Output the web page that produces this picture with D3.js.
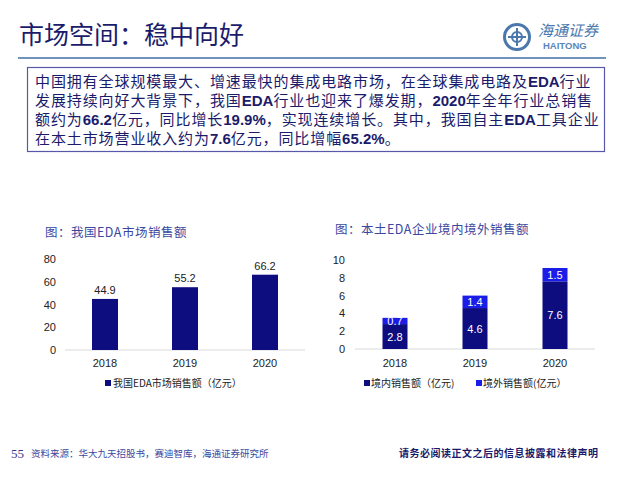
<!DOCTYPE html>
<html>
<head>
<meta charset="utf-8">
<script src="https://cdn.jsdelivr.net/npm/d3@7"></script>
<style>
  body { margin: 0; background: #fff; }
  svg { display: block; font-family: "Liberation Sans", Arial, sans-serif; }
  .cjk { font-family: "Noto Sans CJK SC", "Liberation Sans", sans-serif; }
</style>
</head>
<body>
<svg width="640" height="480"></svg>
<script>
// data
years = ['2018', '2019', '2020'];
marketSales = [44.9, 55.2, 66.2];
domesticSales = [2.8, 4.6, 7.6];
overseasSales = [0.7, 1.4, 1.5];
leftTicks = [0, 20, 40, 60, 80];
rightTicks = [0, 2, 4, 6, 8, 10];

const navy = '#0d0d80';
const brightBlue = '#1c1ce8';
const textNavy = '#1b1b6b';

svg = d3.select('svg');

// header
svg.append('text').attr('class', 'cjk')
  .attr('x', 19).attr('y', 44)
  .style('font-size', '25px').style('fill', textNavy)
  .text('市场空间：稳中向好');

svg.append('line')
  .attr('x1', 18).attr('x2', 606).attr('y1', 58).attr('y2', 58)
  .style('stroke', '#3f6fa3').style('stroke-width', 1.5);

// logo (simplified)
logo = svg.append('g').attr('transform', 'translate(517,37)');
logo.append('circle').attr('r', 12.5)
  .style('fill', 'none').style('stroke', '#4a78ad').style('stroke-width', 3);
logo.append('circle').attr('r', 5)
  .style('fill', 'none').style('stroke', '#4a78ad').style('stroke-width', 2);
logo.append('line').attr('x1', -9).attr('x2', 9).attr('y1', 0).attr('y2', 0)
  .style('stroke', '#4a78ad').style('stroke-width', 2);
logo.append('line').attr('x1', 0).attr('x2', 0).attr('y1', -9).attr('y2', 9)
  .style('stroke', '#4a78ad').style('stroke-width', 2);
svg.append('text').attr('class', 'cjk')
  .attr('x', 538).attr('y', 36)
  .style('font-size', '15px').style('font-style', 'italic').style('fill', '#4a78ad')
  .text('海通证券');
svg.append('text')
  .attr('x', 543).attr('y', 49)
  .style('font-size', '9.5px').style('font-weight', 'bold').style('fill', '#5a86b8')
  .text('HAITONG');

// summary box
svg.append('rect')
  .attr('x', 27.5).attr('y', 67.5).attr('width', 577).attr('height', 84)
  .style('fill', '#fff').style('stroke', '#5858aa').style('stroke-width', 1.2);

const lines = [
  [['中国拥有全球规模最大、增速最快的集成电路市场，在全球集成电路及', 0], ['EDA', 1], ['行业', 0]],
  [['发展持续向好大背景下，我国', 0], ['EDA', 1], ['行业也迎来了爆发期，', 0], ['2020', 1], ['年全年行业总销售', 0]],
  [['额约为', 0], ['66.2', 1], ['亿元，同比增长', 0], ['19.9%', 1], ['，实现连续增长。其中，我国自主', 0], ['EDA', 1], ['工具企业', 0]],
  [['在本土市场营业收入约为', 0], ['7.6', 1], ['亿元，同比增幅', 0], ['65.2%', 1], ['。', 0]]
];
lines.forEach((parts, i) => {
  const t = svg.append('text').attr('class', 'cjk')
    .attr('x', 35).attr('y', 87 + i * 19)
    .style('font-size', '15px').style('letter-spacing', '0.9px').style('fill', textNavy);
  parts.forEach(p => {
    t.append('tspan').text(p[0])
      .style('font-family', p[1] ? '"Liberation Sans", Arial, sans-serif' : null)
      .style('font-weight', p[1] ? 'bold' : 'normal')
      .style('letter-spacing', p[1] ? '0px' : null);
  });
});

// ---------- left chart ----------
svg.append('text').attr('class', 'cjk')
  .attr('x', 45).attr('y', 237)
  .style('font-size', '12.5px').style('letter-spacing', '0.5px').style('fill', '#3a48a0')
  .text('图：我国EDA市场销售额');

xL = d3.scaleBand().domain(years).range([65, 305]).paddingInner(0.675).paddingOuter(0.3375);
yL = d3.scaleLinear().domain([0, 80]).range([350, 259]);

svg.append('line')
  .attr('x1', 65).attr('x2', 305).attr('y1', yL(0)).attr('y2', yL(0))
  .style('stroke', '#d9d9d9');

svg.selectAll('.ytickL').data(leftTicks).enter().append('text')
  .attr('x', 56).attr('y', d => yL(d) + 4)
  .attr('text-anchor', 'end')
  .style('font-size', '11px').style('fill', '#222')
  .text(d => d);

svg.selectAll('.barL').data(marketSales).enter().append('rect')
  .attr('x', (d, i) => xL(years[i]))
  .attr('y', d => yL(d))
  .attr('width', xL.bandwidth())
  .attr('height', d => yL(0) - yL(d))
  .style('fill', navy);

svg.selectAll('.valL').data(marketSales).enter().append('text')
  .attr('x', (d, i) => xL(years[i]) + xL.bandwidth() / 2)
  .attr('y', d => yL(d) - 5)
  .attr('text-anchor', 'middle')
  .style('font-size', '11px').style('fill', '#222')
  .text(d => d.toFixed(1));

svg.selectAll('.xL').data(years).enter().append('text')
  .attr('x', d => xL(d) + xL.bandwidth() / 2)
  .attr('y', 367)
  .attr('text-anchor', 'middle')
  .style('font-size', '11px').style('fill', '#222')
  .text(d => d);

svg.append('rect').attr('x', 105).attr('y', 380).attr('width', 6).attr('height', 6).style('fill', navy);
svg.append('text').attr('class', 'cjk')
  .attr('x', 113).attr('y', 387)
  .style('font-size', '10px').style('fill', '#222')
  .text('我国EDA市场销售额（亿元）');

// ---------- right chart ----------
svg.append('text').attr('class', 'cjk')
  .attr('x', 335).attr('y', 234)
  .style('font-size', '12.5px').style('letter-spacing', '0.5px').style('fill', '#3a48a0')
  .text('图：本土EDA企业境内境外销售额');

xR = d3.scaleBand().domain(years).range([355, 595]).paddingInner(0.6875).paddingOuter(0.34375);
yR = d3.scaleLinear().domain([0, 10]).range([349, 260]);

svg.append('line')
  .attr('x1', 355).attr('x2', 595).attr('y1', yR(0)).attr('y2', yR(0))
  .style('stroke', '#d9d9d9');

svg.selectAll('.ytickR').data(rightTicks).enter().append('text')
  .attr('x', 345).attr('y', d => yR(d) + 4)
  .attr('text-anchor', 'end')
  .style('font-size', '11px').style('fill', '#222')
  .text(d => d);

stackData = years.map((y, i) => ({ year: y, domestic: domesticSales[i], overseas: overseasSales[i] }));
stacked = d3.stack().keys(['domestic', 'overseas'])(stackData);
const stackColors = { domestic: navy, overseas: brightBlue };

stacked.forEach(layer => {
  svg.selectAll('.bar-' + layer.key).data(layer).enter().append('rect')
    .attr('x', d => xR(d.data.year))
    .attr('y', d => yR(d[1]))
    .attr('width', xR.bandwidth())
    .attr('height', d => yR(d[0]) - yR(d[1]))
    .style('fill', stackColors[layer.key]);
  svg.selectAll('.lab-' + layer.key).data(layer).enter().append('text')
    .attr('x', d => xR(d.data.year) + xR.bandwidth() / 2)
    .attr('y', d => (yR(d[0]) + yR(d[1])) / 2 + 4)
    .attr('text-anchor', 'middle')
    .style('font-size', '11px').style('fill', '#fff')
    .text(d => d.data[layer.key].toFixed(1));
});

svg.selectAll('.xR').data(years).enter().append('text')
  .attr('x', d => xR(d) + xR.bandwidth() / 2)
  .attr('y', 367)
  .attr('text-anchor', 'middle')
  .style('font-size', '11px').style('fill', '#222')
  .text(d => d);

svg.append('rect').attr('x', 364).attr('y', 380).attr('width', 6).attr('height', 6).style('fill', navy);
svg.append('text').attr('class', 'cjk')
  .attr('x', 371).attr('y', 387)
  .style('font-size', '10px').style('fill', '#222')
  .text('境内销售额（亿元)');
svg.append('rect').attr('x', 476).attr('y', 380).attr('width', 6).attr('height', 6).style('fill', brightBlue);
svg.append('text').attr('class', 'cjk')
  .attr('x', 483).attr('y', 387)
  .style('font-size', '10px').style('fill', '#222')
  .text('境外销售额(亿元）');

// footer
svg.append('text')
  .attr('x', 11).attr('y', 458)
  .style('font-family', '"Liberation Serif", serif')
  .style('font-size', '13px').style('fill', '#3a3a90')
  .text('55');
svg.append('text').attr('class', 'cjk')
  .attr('x', 31).attr('y', 457)
  .style('font-size', '9.5px').style('fill', '#3a48a0')
  .text('资料来源：华大九天招股书，赛迪智库，海通证券研究所');
svg.append('text').attr('class', 'cjk')
  .attr('x', 399).attr('y', 457)
  .style('font-size', '10px').style('letter-spacing', '0.5px')
  .style('font-weight', 'bold').style('fill', textNavy)
  .text('请务必阅读正文之后的信息披露和法律声明');
</script>
</body>
</html>
